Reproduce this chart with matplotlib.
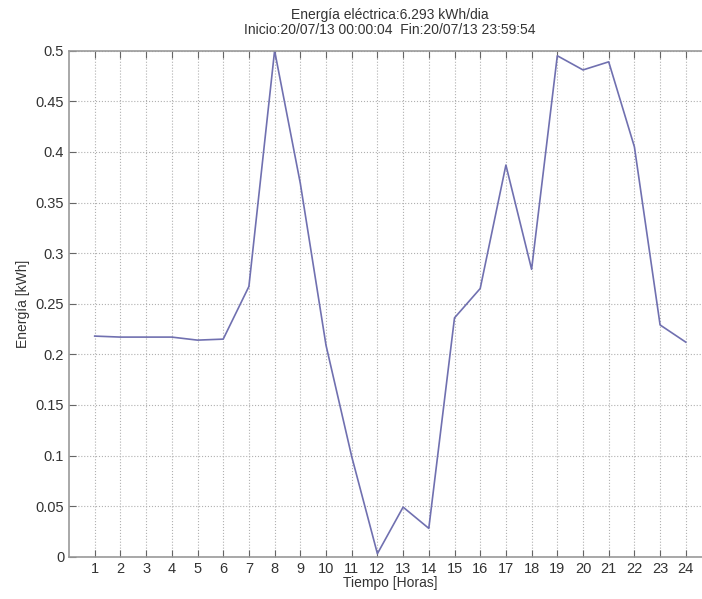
import matplotlib
matplotlib.use("Agg")
import matplotlib.pyplot as plt

hours = list(range(1, 25))
energy = [0.218, 0.217, 0.217, 0.217, 0.214, 0.215, 0.267, 0.500, 0.369, 0.209,
          0.099, 0.003, 0.049, 0.028, 0.236, 0.265, 0.387, 0.284, 0.495, 0.481,
          0.489, 0.405, 0.229, 0.212]
yticks = [0, 0.05, 0.1, 0.15, 0.2, 0.25, 0.3, 0.35, 0.4, 0.45, 0.5]
ytick_labels = ["0", "0.05", "0.1", "0.15", "0.2", "0.25", "0.3", "0.35", "0.4", "0.45", "0.5"]
title = "Energía eléctrica:6.293 kWh/dia\nInicio:20/07/13 00:00:04  Fin:20/07/13 23:59:54"

plt.rcParams['font.family'] = ['Liberation Sans', 'DejaVu Sans']
fig = plt.figure(figsize=(7.02, 5.99), dpi=100)
ax = fig.add_axes([69/702, 1 - 556.7/599, (711.5 - 69)/702, (556.7 - 50.7)/599])
ax.plot(hours, energy, color='#7070b0', linewidth=1.2)
ax.set_xlim(0, 25)
ax.set_ylim(0, 0.5)
ax.set_xticks(hours)
ax.set_yticks(yticks)
ax.set_yticklabels(ytick_labels)
ax.grid(True, linestyle=':', color='#b0b0b0', linewidth=0.8)
ax.tick_params(direction='in', length=5, color='#666666', labelcolor='#333333', labelsize=10.5,
               top=True, right=True)
for s in ax.spines.values():
    s.set_color('#999999')
    s.set_linewidth(1.2)
ax.set_xlabel('Tiempo [Horas]', fontsize=10, color='#333333', labelpad=0)
ax.set_ylabel('Energía [kWh]', fontsize=10, color='#333333', labelpad=4)
ax.set_title(title, fontsize=10, color='#333333', pad=12, linespacing=1.1)
fig.savefig('out.png', dpi=100)
